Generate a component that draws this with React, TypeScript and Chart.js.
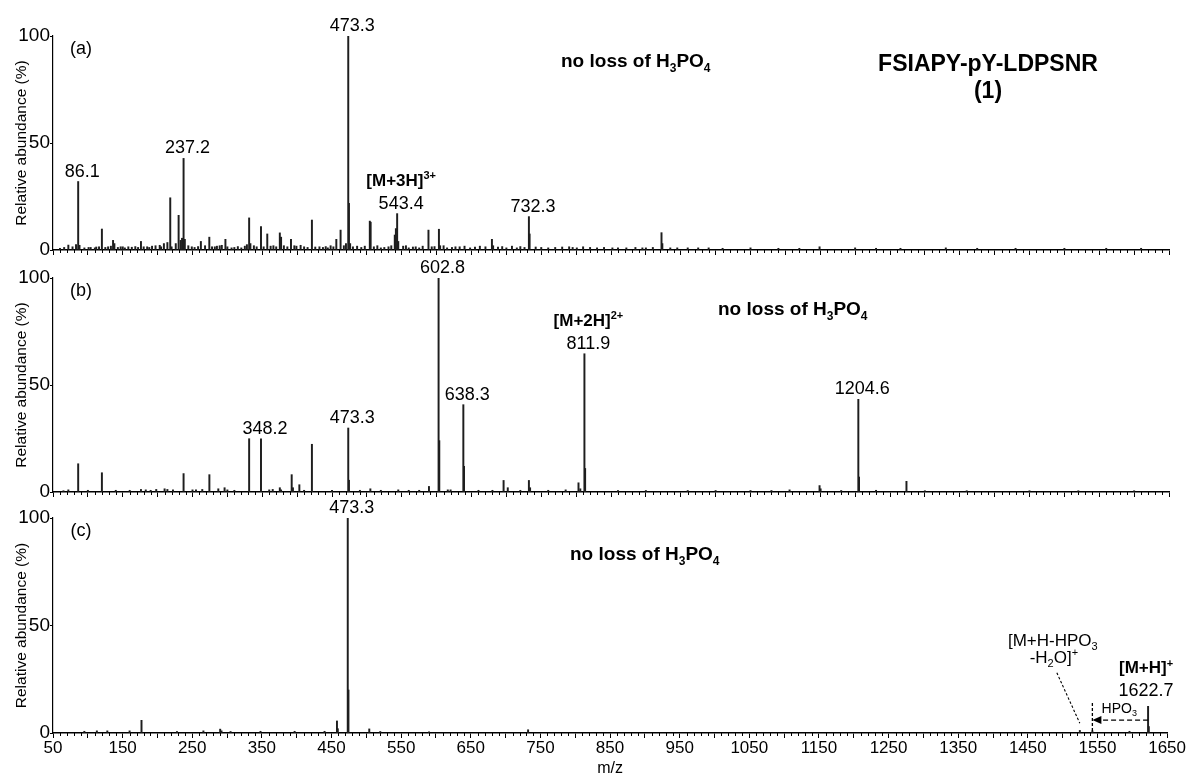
import React, { useEffect, useRef } from 'react';
import { Chart, registerables } from 'chart.js';

Chart.register(...registerables);

const FONT = '"Liberation Sans", Arial, Helvetica, sans-serif';
Chart.defaults.font.family = FONT;
Chart.defaults.color = '#000';

// ---------------- data ----------------
const X_MIN = 50;
const X_MAX = 1650;
const X_TICK_LABELS = [50, 150, 250, 350, 450, 550, 650, 750, 850, 950, 1050, 1150, 1250, 1350, 1450, 1550, 1650];
const Y_TICK_VALUES = [0, 50, 100];

// panel (a): [m/z, relative abundance %]
const PEAKS_A: [number, number][] = [
  [60, 0.8], [66, 1.2], [72, 2.3], [78, 1.5], [83, 2.5], [86.1, 32], [88, 2.2], [95, 1], [101, 1.2], [104, 1.2],
  [110, 1], [112, 1.4], [116, 1.5], [120.1, 9.8], [125, 1.2], [129, 1.5], [133, 1.8], [136.1, 4.5], [138, 3], [143, 1.2],
  [147, 1.5], [150, 1.5], [153, 1], [158, 1.5], [163, 1.3], [168, 1.6], [172, 1.2], [176.1, 4], [180, 1.5], [185, 1.5],
  [188, 1.2], [192, 1.8], [197, 2], [203, 2.2], [205, 1.5], [209, 3], [214, 3.5], [218.1, 24.4], [220, 1.5], [226, 3],
  [230.1, 16.2], [233, 4.5], [235, 5.5], [237.2, 42.8], [239, 5], [244, 2], [249, 1.5], [253, 1.2], [258, 1.6], [262, 4],
  [268, 2], [274.1, 6], [278, 1.5], [282, 1.5], [285, 1.8], [289, 2], [292, 2.2], [297.2, 5], [300, 1.5], [306, 1],
  [310, 1.2], [315, 1.6], [320, 1], [325, 1.8], [328, 2.5], [331.2, 15], [333, 3], [338, 2], [342, 1.5], [348.2, 11],
  [352, 1.5], [357.2, 7.5], [362, 1.8], [366, 2], [370, 1.5], [375.2, 8], [377, 6], [381, 2], [386, 1.5], [391.2, 5],
  [396, 2], [399, 1.8], [405, 2.2], [410, 1.5], [415, 1.2], [421.2, 14], [426, 1.4], [432, 1.5], [437, 1.2], [441, 1.6],
  [444, 1], [448, 2], [452, 1.5], [456.2, 5], [462.3, 9.3], [467, 2], [470, 3], [473.3, 100], [474.3, 21.8], [476, 3],
  [480, 1.5], [486, 1.8], [492, 1.2], [497, 1.8], [504.2, 13.5], [505.4, 13], [510, 1.5], [515, 2], [520, 1], [525, 1.2],
  [531, 1.5], [535, 2], [540, 7], [541.6, 10], [543.4, 17], [545, 4], [552, 1.8], [556, 2], [560, 1], [566, 1.4],
  [570, 1.5], [575, 1], [580, 1.8], [588.3, 9.3], [593, 1.5], [597, 1.6], [603.3, 9.7], [605, 2], [610, 2], [615, 1],
  [622, 1.2], [627, 1.5], [633, 1.5], [640, 1.8], [648, 1], [655, 1.4], [662, 1.8], [670, 1.5], [679.3, 5], [681, 2],
  [688, 1.4], [694, 1.6], [700, 1], [708, 1.8], [715, 1], [720, 1.6], [726, 1.2], [732.3, 15.6], [733.3, 7.5], [742, 1.4],
  [750, 1.2], [760, 1], [770, 1.2], [780, 1.4], [790, 1.5], [795, 1.2], [801, 1], [810, 1.5], [820, 1.2], [830, 1],
  [840, 1.2], [852, 1], [860, 1], [872, 1], [885, 1.2], [895, 1], [900, 1], [910, 1.2], [922.4, 8.1], [923.6, 3],
  [935, 1], [945, 1], [960, 1], [975, 1], [990, 1], [1010, 0.8], [1050, 1], [1090, 0.8], [1120, 0.8], [1149, 1.5],
  [1200, 1], [1230, 0.8], [1265, 0.8], [1330, 1], [1375, 0.8], [1430, 0.8], [1500, 0.8], [1560, 0.8], [1610, 0.8],
];

// panel (b)
const PEAKS_B: [number, number][] = [
  [65, 0.6], [72, 1], [86.1, 13.2], [100, 0.8], [120.1, 9], [140, 0.8], [160, 0.8], [176.1, 1.2], [183, 1], [190, 0.8],
  [198, 1.2], [210, 1.5], [214, 1.2], [222, 1], [237.2, 8.6], [250, 1], [255, 1], [264, 1.2], [274.2, 8.1], [287, 1.5],
  [296, 2], [300, 1], [310, 0.8], [331.2, 24.9], [348.2, 24.9], [360, 1], [365, 1.2], [375.2, 2], [377, 1], [392.2, 8.1],
  [394, 2], [403.2, 3.4], [410, 0.8], [421.2, 22.3], [450, 0.8], [473.3, 29.9], [474.3, 5.5], [490, 0.8], [505, 1.5], [520, 0.8],
  [545, 1], [560, 0.8], [575, 0.8], [589, 2.6], [602.8, 100], [603.8, 24], [616, 1], [620, 1], [638.3, 40.8], [639.3, 12],
  [660, 0.8], [680, 0.8], [696, 5.4], [702, 2], [720, 0.8], [732.3, 5.4], [734, 2], [760, 0.8], [785, 1], [803.4, 4.3],
  [806, 1.5], [811.9, 64.6], [812.9, 11], [860, 0.7], [900, 0.7], [960, 0.7], [1000, 0.7], [1050, 0.7], [1080, 0.7], [1106, 1],
  [1149, 3], [1150.5, 1.5], [1180, 0.7], [1204.6, 43.3], [1205.6, 7], [1230, 0.8], [1273.6, 5], [1300, 0.6], [1360, 0.6], [1450, 0.6],
  [1520, 0.6], [1600, 0.6],
];

// panel (c)
const PEAKS_C: [number, number][] = [
  [95, 0.8], [113, 1], [128, 1], [160, 1], [177.1, 5.9], [228, 0.7], [266, 1], [290.1, 1.8], [292, 1], [305, 0.7],
  [348, 0.8], [397, 0.8], [440, 0.8], [457.8, 5.6], [459, 2], [473.3, 100], [474.3, 20], [504.2, 1.9], [520, 0.7], [590, 0.6],
  [732.3, 1.5], [1524.7, 1.2], [1542.7, 1], [1596, 0.8], [1622.7, 12.4], [1623.7, 3],
];

const LABELS_A = ['86.1', '237.2', '473.3', '543.4', '732.3'];
const LABELS_B = ['348.2', '473.3', '602.8', '638.3', '811.9', '1204.6'];
const LABELS_C = ['473.3', '1622.7'];

const PRECURSOR_MZ = 1622.7;
const HPO3_LOSS_MZ = 1542.7;
const HPO3_H2O_LOSS_MZ = 1524.7;

type Seg = { t: string; s?: 'sub' | 'sup' };
const ION_A: { at: number; segs: Seg[] } = { at: 543.4, segs: [{ t: '[M+3H]' }, { t: '3+', s: 'sup' }] };
const ION_B: { at: number; segs: Seg[] } = { at: 811.9, segs: [{ t: '[M+2H]' }, { t: '2+', s: 'sup' }] };
const ION_C: { at: number; segs: Seg[] } = { at: 1622.7, segs: [{ t: '[M+H]' }, { t: '+', s: 'sup' }] };
const NO_LOSS: Seg[] = [{ t: 'no loss of H' }, { t: '3', s: 'sub' }, { t: 'PO' }, { t: '4', s: 'sub' }];
const LOSS_LINE1: Seg[] = [{ t: '[M+H-HPO' }, { t: '3', s: 'sub' }];
const LOSS_LINE2: Seg[] = [{ t: '-H' }, { t: '2', s: 'sub' }, { t: 'O]' }, { t: '+', s: 'sup' }];
const HPO3_TEXT: Seg[] = [{ t: 'HPO' }, { t: '3', s: 'sub' }];
const TITLE_1 = 'FSIAPY-pY-LDPSNR';
const TITLE_2 = '(1)';

// ---------------- styles ----------------
const PEAK_COLOR = '#1e1e1e';
const AXIS_COLOR = '#000';
const LABEL_NUDGE: Record<string, { dx: number; dy: number }> = { '1622.7': { dx: -6, dy: -5 } };

function segFont(size: number, bold: boolean) {
  return `${bold ? 'bold ' : ''}${size}px ${FONT}`;
}

function drawRich(ctx: CanvasRenderingContext2D, segs: Seg[], x: number, y: number, size: number, bold: boolean, align: 'left' | 'center') {
  ctx.save();
  ctx.textBaseline = 'alphabetic';
  ctx.textAlign = 'left';
  ctx.fillStyle = '#000';
  const sizes = segs.map((s) => (s.s ? Math.round(size * 0.65) : size));
  let total = 0;
  segs.forEach((s, i) => {
    ctx.font = segFont(sizes[i], bold);
    total += ctx.measureText(s.t).width;
  });
  let cx = align === 'center' ? x - total / 2 : x;
  segs.forEach((s, i) => {
    ctx.font = segFont(sizes[i], bold);
    const dy = s.s === 'sub' ? size * 0.26 : s.s === 'sup' ? -size * 0.4 : 0;
    ctx.fillText(s.t, cx, y + dy);
    cx += ctx.measureText(s.t).width;
  });
  ctx.restore();
}

function peakPoint(chart: Chart, peaks: [number, number][], mz: number) {
  const p = peaks.find(([m]) => Math.abs(m - mz) < 0.05);
  const xs = chart.scales.x;
  const ys = chart.scales.y;
  return { x: xs.getPixelForValue(mz), y: ys.getPixelForValue(p ? p[1] : 0) };
}

function drawPeakLabels(chart: Chart, peaks: [number, number][], labels: string[], ion: { at: number; segs: Seg[] }) {
  const ctx = chart.ctx;
  labels.forEach((lab) => {
    const mz = parseFloat(lab);
    const pt = peakPoint(chart, peaks, mz);
    const n = LABEL_NUDGE[lab] || { dx: 0, dy: 0 };
    const x = pt.x + 4 + n.dx;
    const y = pt.y - 5 + n.dy;
    drawRich(ctx, [{ t: lab }], x, y, 18, false, 'center');
    if (Math.abs(mz - ion.at) < 0.05) {
      drawRich(ctx, ion.segs, x, y - 23, 17, true, 'center');
    }
  });
}

function drawPanelTag(chart: Chart, tag: string) {
  const ctx = chart.ctx;
  const { left, top } = chart.chartArea;
  ctx.save();
  ctx.font = `18px ${FONT}`;
  ctx.fillStyle = '#000';
  ctx.textAlign = 'center';
  ctx.textBaseline = 'middle';
  ctx.fillText(tag, left + 28, top + 13);
  ctx.restore();
}

function drawMinorTicks(chart: Chart) {
  const ctx = chart.ctx;
  const xs = chart.scales.x;
  const bottom = chart.chartArea.bottom;
  ctx.save();
  ctx.strokeStyle = AXIS_COLOR;
  ctx.lineWidth = 1;
  ctx.beginPath();
  for (let v = X_MIN; v <= X_MAX; v += 10) {
    if (v % 50 === 0) continue;
    const x = Math.round(xs.getPixelForValue(v)) + 0.5;
    ctx.moveTo(x, bottom);
    ctx.lineTo(x, bottom + 3);
  }
  ctx.stroke();
  ctx.restore();
}

function drawA(chart: Chart) {
  const ctx = chart.ctx;
  const { left, top } = chart.chartArea;
  drawPanelTag(chart, '(a)');
  drawPeakLabels(chart, PEAKS_A, LABELS_A, ION_A);
  drawRich(ctx, NO_LOSS, left + 508, top + 31, 19, true, 'left');
  drawRich(ctx, [{ t: TITLE_1 }], left + 935, top + 35, 23, true, 'center');
  drawRich(ctx, [{ t: TITLE_2 }], left + 935, top + 62, 23, true, 'center');
}

function drawB(chart: Chart) {
  const ctx = chart.ctx;
  const { left, top } = chart.chartArea;
  drawPanelTag(chart, '(b)');
  drawPeakLabels(chart, PEAKS_B, LABELS_B, ION_B);
  drawRich(ctx, NO_LOSS, left + 665, top + 37, 19, true, 'left');
}

function drawC(chart: Chart) {
  const ctx = chart.ctx;
  const { left, top } = chart.chartArea;
  const xs = chart.scales.x;
  const ys = chart.scales.y;
  drawPanelTag(chart, '(c)');
  drawPeakLabels(chart, PEAKS_C, LABELS_C, ION_C);
  drawRich(ctx, NO_LOSS, left + 517, top + 42, 19, true, 'left');

  const xPre = xs.getPixelForValue(PRECURSOR_MZ);
  const xLoss = xs.getPixelForValue(HPO3_LOSS_MZ);
  const xLoss2 = xs.getPixelForValue(HPO3_H2O_LOSS_MZ);
  const yArrow = ys.getPixelForValue(6);

  ctx.save();
  ctx.strokeStyle = '#000';
  ctx.fillStyle = '#000';
  ctx.lineWidth = 1.3;
  // HPO3 loss arrow
  ctx.setLineDash([5, 3]);
  ctx.beginPath();
  ctx.moveTo(xPre, yArrow);
  ctx.lineTo(xLoss + 8, yArrow);
  ctx.stroke();
  // vertical marker at loss position
  ctx.setLineDash([3, 2]);
  ctx.beginPath();
  ctx.moveTo(xLoss, ys.getPixelForValue(14));
  ctx.lineTo(xLoss, ys.getPixelForValue(0));
  ctx.stroke();
  // leader line to the [M+H-HPO3-H2O]+ label
  ctx.lineWidth = 1.1;
  ctx.setLineDash([2.5, 2]);
  ctx.beginPath();
  ctx.moveTo(xLoss2 - 23, ys.getPixelForValue(28));
  ctx.lineTo(xLoss2, ys.getPixelForValue(4.5));
  ctx.stroke();
  ctx.setLineDash([]);
  // arrow head
  ctx.beginPath();
  ctx.moveTo(xLoss, yArrow);
  ctx.lineTo(xLoss + 9, yArrow - 4);
  ctx.lineTo(xLoss + 9, yArrow + 4);
  ctx.closePath();
  ctx.fill();
  ctx.restore();

  drawRich(ctx, HPO3_TEXT, (xPre + xLoss) / 2 - 1, ys.getPixelForValue(9.5), 14, false, 'center');
  drawRich(ctx, LOSS_LINE1, xLoss2 - 27, top + 128, 17, false, 'center');
  drawRich(ctx, LOSS_LINE2, xLoss2 - 26, top + 145, 17, false, 'center');
}

type PanelSpec = {
  peaks: [number, number][];
  top: number;
  height: number;
  padTop: number;
  xAxisHeight: number;
  showXLabels: boolean;
  draw: (chart: Chart) => void;
};

const PANELS: PanelSpec[] = [
  { peaks: PEAKS_A, top: 0, height: 262, padTop: 36, xAxisHeight: 12, showXLabels: false, draw: drawA },
  { peaks: PEAKS_B, top: 252, height: 252, padTop: 26, xAxisHeight: 12, showXLabels: false, draw: drawB },
  { peaks: PEAKS_C, top: 496, height: 281, padTop: 22, xAxisHeight: 44, showXLabels: true, draw: drawC },
];

function Panel({ spec }: { spec: PanelSpec }) {
  const ref = useRef<HTMLCanvasElement>(null);
  useEffect(() => {
    if (!ref.current) return;
    const majorTicks: number[] = [];
    for (let v = X_MIN; v <= X_MAX; v += 50) majorTicks.push(v);
    const chart = new Chart(ref.current, {
      type: 'bar',
      data: {
        datasets: [
          {
            data: spec.peaks.map(([x, y]) => ({ x, y })),
            backgroundColor: PEAK_COLOR,
            borderWidth: 0,
            barThickness: 1.3,
            grouped: false,
          } as any,
        ],
      },
      options: {
        animation: false,
        responsive: false,
        devicePixelRatio: 1,
        events: [],
        layout: { autoPadding: false, padding: { top: spec.padTop, right: 17, left: 0, bottom: 0 } } as any,
        plugins: { legend: { display: false }, tooltip: { enabled: false }, title: { display: false } },
        scales: {
          x: {
            type: 'linear',
            min: X_MIN,
            max: X_MAX,
            offset: false,
            afterBuildTicks: (s: any) => {
              s.ticks = majorTicks.map((v) => ({ value: v }));
            },
            afterFit: (s: any) => {
              s.height = spec.xAxisHeight;
            },
            grid: {
              display: true,
              drawOnChartArea: false,
              drawTicks: true,
              tickLength: 5,
              offset: false,
              color: AXIS_COLOR,
              tickColor: AXIS_COLOR,
              tickWidth: 1,
            },
            border: { display: true, color: AXIS_COLOR, width: 1.5 },
            ticks: {
              autoSkip: false,
              maxRotation: 0,
              minRotation: 0,
              padding: 0,
              color: '#000',
              font: { size: 17, family: FONT },
              callback: (v: any) => (spec.showXLabels && X_TICK_LABELS.includes(Number(v)) ? String(v) : ''),
            },
            title: {
              display: spec.showXLabels,
              text: 'm/z',
              color: '#000',
              font: { size: 16, family: FONT, lineHeight: 1 },
              padding: { top: 0, bottom: 0 },
            },
          } as any,
          y: {
            min: 0,
            max: 100,
            afterBuildTicks: (s: any) => {
              s.ticks = Y_TICK_VALUES.map((v) => ({ value: v }));
            },
            afterFit: (s: any) => {
              s.width = 53;
            },
            grid: { display: true, drawOnChartArea: false, drawTicks: true, tickLength: 3, color: AXIS_COLOR, tickColor: AXIS_COLOR },
            border: { display: true, color: AXIS_COLOR, width: 1.2 },
            ticks: { padding: 0, color: '#000', font: { size: 19, family: FONT }, callback: (v: any) => String(v) },
            title: {
              display: true,
              text: 'Relative abundance (%)',
              color: '#000',
              font: { size: 15.5, family: FONT, lineHeight: 1.2 },
              padding: { top: 12, bottom: 0 },
            },
          } as any,
        },
      },
      plugins: [
        {
          id: 'annotations',
          afterDraw(c: Chart) {
            drawMinorTicks(c);
            spec.draw(c);
          },
        },
      ],
    });
    return () => chart.destroy();
  }, [spec]);
  return (
    <canvas
      ref={ref}
      width={1186}
      height={spec.height}
      style={{ position: 'absolute', left: 0, top: spec.top, width: 1186, height: spec.height }}
    />
  );
}

export default function App() {
  return (
    <div style={{ position: 'absolute', left: 0, top: 0, width: 1186, height: 777, background: '#fff', overflow: 'hidden' }}>
      {PANELS.map((p, i) => (
        <Panel key={i} spec={p} />
      ))}
    </div>
  );
}
